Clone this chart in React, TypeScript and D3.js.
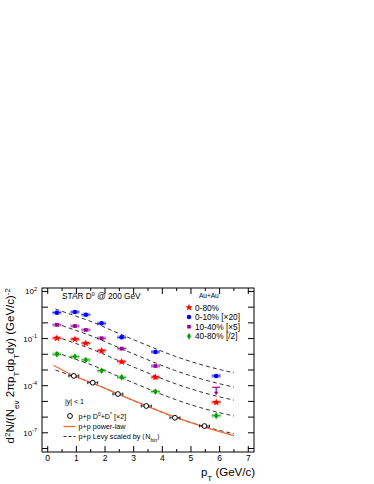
import React from "react";
import * as d3 from "d3";

// Au+Au D0 spectra, pT bins (GeV/c)
const ptAuAu = [0.32, 0.95, 1.33, 1.88, 2.58, 3.76, 5.88];
const yield0to80 = [0.105, 0.091, 0.05, 0.017, 3.4e-3, 3.4e-4, 8.7e-6];
const yield0to10 = [4.47, 4.9, 3.31, 0.93, 0.12, 0.0141, 4.17e-4];
const yield10to40 = [0.74, 0.63, 0.355, 0.105, 0.0229, 1.78e-3];
const limit10to40 = [5.88, 7.9e-5];
const yield40to80 = [0.01, 7.1e-3, 4.4e-3, 9.1e-4, 3.4e-4, 4.2e-5, 1.23e-6];

// p+p D0+D* [x2]
const ptPP = [0.91, 1.57, 2.45, 3.44, 4.44, 5.47];
const yieldPP = [4.2e-4, 1.55e-4, 2.95e-5, 5.1e-6, 9.1e-7, 2.7e-7];

// p+p fits
const ptLevy = [0.27, 0.9, 1.55, 2.45, 3.45, 4.45, 5.45, 6.5];
const levyPP = [1.0e-3, 3.98e-4, 1.51e-4, 2.95e-5, 5.1e-6, 9.8e-7, 2.57e-7, 8.7e-8];
const ptPower = [0.2, 0.9, 1.55, 2.45, 3.45, 4.45, 5.45, 6.5];
const powerPP = [2.0e-3, 4.4e-4, 1.48e-4, 3.0e-5, 5.2e-6, 1.0e-6, 2.4e-7, 6.5e-8];

// Levy scaled by <Nbin> for each centrality
const levyScale = { c0to80: 138, c0to10: 7600, c10to40: 940, c40to80: 13.5 };

const xTicks = [0, 1, 2, 3, 4, 5, 6, 7];
const yLabelExp = [2, -1, -4, -7];

const FONT = "Liberation Sans, Arial, Helvetica, sans-serif";

const series = [
  { label: "0-80%", color: "#ff0000", sym: d3.symbolStar, size: 18, values: yield0to80, scale: levyScale.c0to80 },
  { label: "0-10% [\u00d720]", color: "#0000ff", sym: d3.symbolCircle, size: 16, values: yield0to10, scale: levyScale.c0to10 },
  { label: "10-40% [\u00d75]", color: "#990099", sym: d3.symbolSquare, size: 13, values: yield10to40, scale: levyScale.c10to40 },
  { label: "40-80% [/2]", color: "#00a000", sym: d3.symbolDiamond, size: 14, values: yield40to80, scale: levyScale.c40to80 },
];

const L = 42, R = 254, T = 288, B = 452;

const App = () => {
  const x = d3.scaleLinear().domain([-0.2, 7.2]).range([L, R]);
  const y = d3.scaleLog().domain([6e-9, 166]).range([B, T]);

  const levyLine = (scale: number) =>
    d3.line<number>()
      .x((_, i) => x(ptLevy[i]))
      .y((d) => y(d * scale))
      .curve(d3.curveMonotoneX)(levyPP) as string;

  const powerLine = d3.line<number>()
    .x((_, i) => x(ptPower[i]))
    .y((d) => y(d))
    .curve(d3.curveMonotoneX)(powerPP) as string;

  const minorX = d3.range(0, 7.01, 0.5);
  const decades = d3.range(-8, 3);

  return (
    <svg width={374} height={484} style={{ position: "absolute", left: 0, top: 0 }} fontFamily={FONT}>
      <rect width={374} height={484} fill="#fff" />

      {/* curves */}
      {series.map((s) => (
        <path key={"l" + s.label} d={levyLine(s.scale)} fill="none" stroke="#333" strokeWidth={1} strokeDasharray="4,3" />
      ))}
      <path d={levyLine(1)} fill="none" stroke="#333" strokeWidth={1} strokeDasharray="4,3" />
      <path d={powerLine} fill="none" stroke="#f26b3a" strokeWidth={1.3} />

      {/* Au+Au points */}
      {series.map((s) => (
        <g key={"p" + s.label}>
          {s.values.map((v, i) => {
            const cx = x(ptAuAu[i]);
            const cy = y(v);
            return (
              <g key={i}>
                <rect x={cx - 4.5} y={cy - 2} width={9} height={4} fill={s.color} fillOpacity={0.3} />
                <line x1={cx - 4.5} x2={cx + 4.5} y1={cy} y2={cy} stroke={s.color} strokeWidth={0.8} />
                <path d={d3.symbol(s.sym, s.size)() as string} transform={`translate(${cx},${cy})`} fill={s.color} />
              </g>
            );
          })}
        </g>
      ))}

      {/* 10-40% upper limit */}
      <g stroke="#990099" strokeWidth={1.2}>
        <line x1={x(limit10to40[0]) - 4} x2={x(limit10to40[0]) + 4} y1={y(limit10to40[1])} y2={y(limit10to40[1])} />
        <line x1={x(limit10to40[0])} x2={x(limit10to40[0])} y1={y(limit10to40[1])} y2={y(limit10to40[1]) + 5} />
      </g>
      <path
        d={`M${x(limit10to40[0]) - 2.2},${y(limit10to40[1]) + 4.5} L${x(limit10to40[0]) + 2.2},${y(limit10to40[1]) + 4.5} L${x(limit10to40[0])},${y(limit10to40[1]) + 8} Z`}
        fill="#990099"
      />

      {/* p+p points */}
      {yieldPP.map((v, i) => {
        const cx = x(ptPP[i]);
        const cy = y(v);
        return (
          <g key={"pp" + i} stroke="#000">
            <line x1={cx - 5} x2={cx + 5} y1={cy} y2={cy} strokeWidth={0.8} />
            <line x1={cx - 5} x2={cx - 5} y1={cy - 1.5} y2={cy + 1.5} strokeWidth={0.8} />
            <line x1={cx + 5} x2={cx + 5} y1={cy - 1.5} y2={cy + 1.5} strokeWidth={0.8} />
            <circle cx={cx} cy={cy} r={2.4} fill="#fff" strokeWidth={1} />
          </g>
        );
      })}

      {/* frame */}
      <rect x={L} y={T} width={R - L} height={B - T} fill="none" stroke="#000" strokeWidth={1} />
      {minorX.map((t) => {
        const len = Number.isInteger(t) ? 6 : 3;
        return (
          <g key={"xt" + t} stroke="#000" strokeWidth={1}>
            <line x1={x(t)} x2={x(t)} y1={B} y2={B - len} />
            <line x1={x(t)} x2={x(t)} y1={T} y2={T + len} />
          </g>
        );
      })}
      {decades.map((e) => (
        <g key={"yt" + e} stroke="#000" strokeWidth={1}>
          <line x1={L} x2={L + 6} y1={y(Math.pow(10, e))} y2={y(Math.pow(10, e))} />
          <line x1={R} x2={R - 6} y1={y(Math.pow(10, e))} y2={y(Math.pow(10, e))} />
        </g>
      ))}

      {xTicks.map((t) => (
        <text key={"xl" + t} x={x(t)} y={461} fontSize={8.5} textAnchor="middle">{t}</text>
      ))}
      {yLabelExp.map((e) => (
        <text key={"yl" + e} x={37} y={y(Math.pow(10, e)) + 3} fontSize={8} textAnchor="end">
          10<tspan fontSize={5.5} dy={-3.5}>{e}</tspan>
        </text>
      ))}

      {/* axis titles */}
      <text x={255} y={476} fontSize={11.5} textAnchor="end">
        p<tspan fontSize={8} baselineShift="sub">T</tspan> (GeV/c)
      </text>
      <text transform="translate(14,288) rotate(-90)" fontSize={11.5} textAnchor="end">
        d<tspan fontSize={8} baselineShift="super">2</tspan>N/(N<tspan fontSize={8} baselineShift="sub">ev</tspan> 2πp
        <tspan fontSize={8} baselineShift="sub">T</tspan>dp<tspan fontSize={8} baselineShift="sub">T</tspan>dy) (GeV/c)
        <tspan fontSize={8} baselineShift="super">-2</tspan>
      </text>

      {/* labels */}
      <text x={62} y={298.5} fontSize={8.3}>
        STAR D<tspan fontSize={5.5} baselineShift="super">0</tspan> @ 200 GeV
      </text>

      <text x={199} y={297.5} fontSize={6.5}>Au+Au</text>
      {series.map((s, i) => (
        <g key={"lg" + s.label}>
          <path d={d3.symbol(s.sym, s.size)() as string} transform={`translate(189,${307.5 + i * 9.6})`} fill={s.color} />
          <text x={195} y={310.5 + i * 9.6} fontSize={8.3}>{s.label}</text>
        </g>
      ))}

      <text x={65} y={404} fontSize={7}>|y| &lt; 1</text>
      <circle cx={70} cy={416} r={2.4} fill="#fff" stroke="#000" strokeWidth={1} />
      <text x={78.5} y={418.5} fontSize={7.2}>
        p+p D<tspan fontSize={5} baselineShift="super">0</tspan>+D<tspan fontSize={5} baselineShift="super">*</tspan> [×2]
      </text>
      <line x1={63.5} x2={75.5} y1={426.5} y2={426.5} stroke="#f26b3a" strokeWidth={1.3} />
      <text x={78.5} y={429} fontSize={7.2}>p+p power-law</text>
      <line x1={63.5} x2={75.5} y1={436.5} y2={436.5} stroke="#333" strokeWidth={1} strokeDasharray="3,2" />
      <text x={78.5} y={439} fontSize={7.2}>
        p+p Levy scaled by ⟨N<tspan fontSize={5} baselineShift="sub">bin</tspan>⟩
      </text>
    </svg>
  );
};

export default App;
